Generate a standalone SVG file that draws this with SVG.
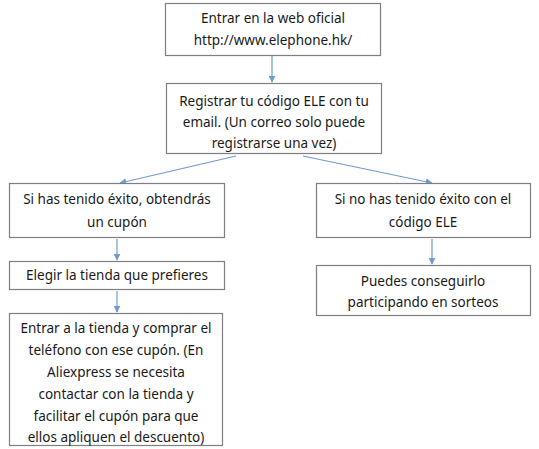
<svg xmlns="http://www.w3.org/2000/svg" width="539" height="449" viewBox="0 0 539 449">
<defs>
<marker id="ah" viewBox="0 0 10 10" refX="9" refY="5" markerWidth="7" markerHeight="7" markerUnits="userSpaceOnUse" orient="auto">
<path d="M0,0 L10,5 L0,10 Z" fill="#6f9bd1"/>
</marker>
<style>
.box{fill:#ffffff;stroke:#7f7f7f;stroke-width:1.2}
.t{font-family:"Noto Sans","Open Sans","Liberation Sans",sans-serif;font-size:13.5px;fill:#1a1a1a;text-anchor:middle}
.c{stroke:#6f9bd1;stroke-width:1.2;fill:none;marker-end:url(#ah)}
</style>
</defs>
<rect width="539" height="449" fill="#ffffff"/>
<g id="connectors">
<line class="c" x1="272" y1="56" x2="272" y2="82"/>
<line class="c" x1="236" y1="156" x2="120" y2="183"/>
<line class="c" x1="303" y1="156" x2="432" y2="183"/>
<line class="c" x1="117" y1="239" x2="117" y2="260"/>
<line class="c" x1="117" y1="291" x2="117" y2="312"/>
<line class="c" x1="432" y1="239" x2="432" y2="264"/>
</g>
<g id="n1">
<rect class="box" x="165.5" y="3.5" width="215" height="52"/>
<text class="t" x="273" y="23">Entrar en la web oficial</text>
<text class="t" x="273" y="45">http://www.elephone.hk/</text>
</g>
<g id="n2">
<rect class="box" x="166.5" y="83.5" width="215" height="70"/>
<text class="t" x="274" y="106">Registrar tu código ELE con tu</text>
<text class="t" x="274" y="127">email. (Un correo solo puede</text>
<text class="t" x="274" y="148">registrarse una vez)</text>
</g>
<g id="n3">
<rect class="box" x="9.5" y="183.5" width="215" height="54"/>
<text class="t" x="117" y="204">Si has tenido éxito, obtendrás</text>
<text class="t" x="117" y="227">un cupón</text>
</g>
<g id="n4">
<rect class="box" x="9.5" y="261.5" width="215" height="28"/>
<text class="t" x="117" y="280">Elegir la tienda que prefieres</text>
</g>
<g id="n5">
<rect class="box" x="9.5" y="313.5" width="213" height="132"/>
<text class="t" x="116" y="333">Entrar a la tienda y comprar el</text>
<text class="t" x="116" y="355">teléfono con ese cupón. (En</text>
<text class="t" x="116" y="377">Aliexpress se necesita</text>
<text class="t" x="116" y="399">contactar con la tienda y</text>
<text class="t" x="116" y="421">facilitar el cupón para que</text>
<text class="t" x="116" y="442">ellos apliquen el descuento)</text>
</g>
<g id="n6">
<rect class="box" x="316.5" y="183.5" width="214" height="54"/>
<text class="t" x="423" y="204">Si no has tenido éxito con el</text>
<text class="t" x="423" y="227">código ELE</text>
</g>
<g id="n7">
<rect class="box" x="316.5" y="265.5" width="214" height="50"/>
<text class="t" x="423" y="286">Puedes conseguirlo</text>
<text class="t" x="423" y="307">participando en sorteos</text>
</g>
</svg>
